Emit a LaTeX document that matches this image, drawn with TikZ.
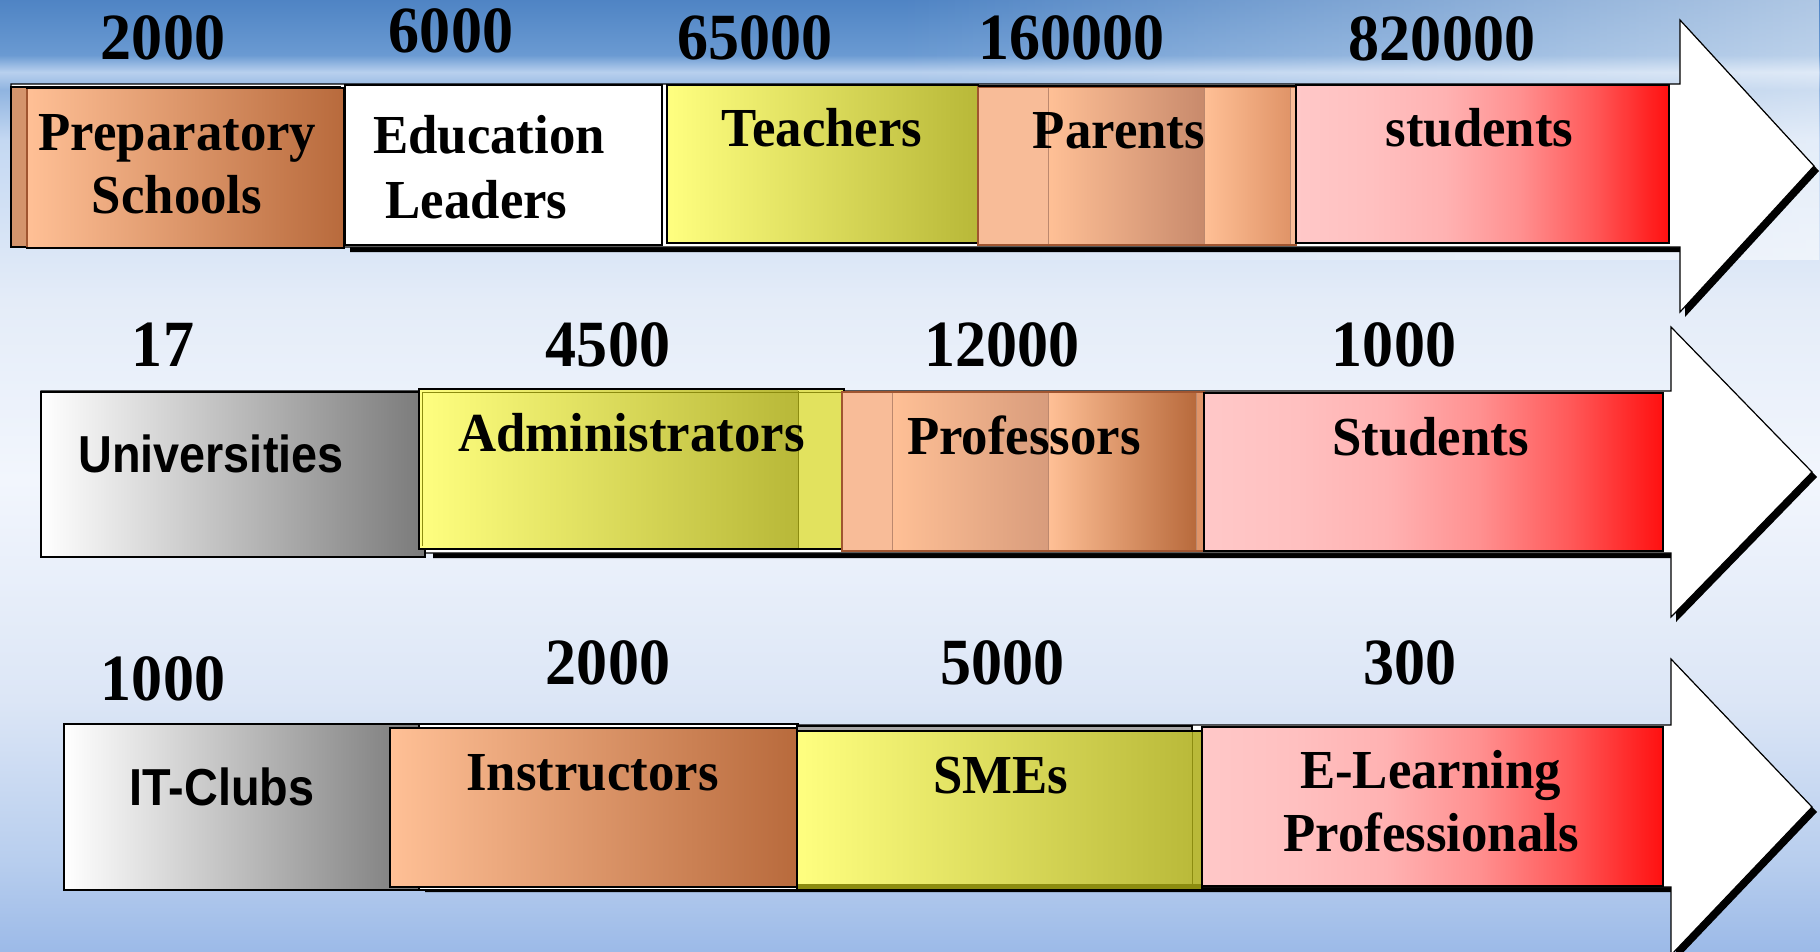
\documentclass[tikz,border=0pt]{standalone}
\usepackage{fontspec}
\setmainfont{Liberation Serif}
\setsansfont{Liberation Sans}
\usetikzlibrary{fadings}
\definecolor{peachL}{HTML}{FFC096}
\definecolor{peachR}{HTML}{B86A3C}
\definecolor{prepback}{HTML}{D4946C}
\definecolor{yelL}{HTML}{FFFF80}
\definecolor{yelR}{HTML}{B8B838}
\definecolor{yelpale}{HTML}{E2E25E}
\definecolor{olive}{HTML}{8C8C10}
\definecolor{greyR}{HTML}{7A7A7A}
\definecolor{pk0}{HTML}{FFC8C8}
\definecolor{pk1}{HTML}{FFC0C0}
\definecolor{pk2}{HTML}{FFB2B2}
\definecolor{pk3}{HTML}{FF9090}
\definecolor{pk4}{HTML}{FF5858}
\definecolor{pk5}{HTML}{FF1010}
\definecolor{parbase}{HTML}{F8BC98}
\definecolor{parA}{HTML}{C88A6C}
\definecolor{parB}{HTML}{E09468}
\definecolor{proA}{HTML}{D89C7C}
\definecolor{brownline}{HTML}{A05530}
\definecolor{bg0}{HTML}{4F84C4}
\definecolor{bg1}{HTML}{6A9AD2}
\definecolor{bg2}{HTML}{B8D0EE}
\definecolor{bg3}{HTML}{90B4E0}
\definecolor{bg4}{HTML}{C4D8F2}
\definecolor{bg5}{HTML}{E4ECF8}
\definecolor{bg6}{HTML}{F2F6FD}
\definecolor{bg7}{HTML}{DCE6F6}
\definecolor{bg8}{HTML}{B8CEEE}
\definecolor{bg9}{HTML}{9CBAE8}
\pgfdeclareverticalshading{bgshade}{100bp}{color(0bp)=(bg9); color(25bp)=(bg9); color(29.78bp)=(bg8); color(38.2bp)=(bg7); color(49.76bp)=(bg6); color(59.23bp)=(bg5); color(67.64bp)=(bg4); color(70.27bp)=(bg3); color(71.21bp)=(bg2); color(72.11bp)=(bg1); color(75bp)=(bg0); color(100bp)=(bg0)}
\pgfdeclarehorizontalshading{pinkred}{100bp}{color(0bp)=(pk0); color(25bp)=(pk0); color(35bp)=(pk1); color(45bp)=(pk2); color(55bp)=(pk3); color(65bp)=(pk4); color(75bp)=(pk5); color(100bp)=(pk5)}
\newcommand\cz[2]{\scalebox{#1}[1]{#2}}
\tikzset{
  num/.style={font=\fontsize{66}{66}\selectfont\bfseries, anchor=base, inner sep=0pt, text=black},
  lab/.style={font=\fontsize{55}{55}\selectfont\bfseries, anchor=base, inner sep=0pt, text=black},
  slab/.style={font=\fontsize{52}{52}\selectfont\sffamily\bfseries, anchor=base, inner sep=0pt, text=black},
  boxline/.style={draw=black, line width=1.4pt},
  arrowbody/.style={fill=white, draw=black, line width=1.2pt},
  arrowshadow/.style={fill=black}
}
\begin{document}
\begin{tikzpicture}[x=1pt, y=-1pt]
\useasboundingbox (0,0) rectangle (1820,951);
\clip (0,0) rectangle (1820,951);
% background
\shade[shading=bgshade] (0,0) rectangle (1820,951);
\fill[white, opacity=0.55, path fading=west] (900,0) rectangle (1820,260);

% ---------- Row 1 ----------
\fill[arrowshadow, shift={(5,5)}] (345,84) -- (1680,84) -- (1680,20) -- (1814,166) -- (1680,312) -- (1680,247) -- (345,247) -- cycle;
\filldraw[arrowbody] (11,84) -- (1680,84) -- (1680,20) -- (1814,166) -- (1680,312) -- (1680,247) -- (11,247) -- cycle;
% Preparatory Schools
\filldraw[fill=prepback, boxline] (11,87) rectangle (340,247);
\shade[left color=peachL, right color=peachR] (27,88) rectangle (344,248);
\draw[boxline] (27,88) rectangle (344,248);
\draw[brownline, line width=1.4pt] (27,89) -- (27,247);
% Education Leaders
\filldraw[fill=white, boxline] (345,85) rectangle (662,245);
% Teachers
\shade[left color=yelL, right color=yelR] (667,85) rectangle (978,243);
\draw[boxline] (667,85) rectangle (978,243);
% Parents
\fill[parbase] (978,87) rectangle (1296,245);
\shade[left color=peachL, right color=parA] (1048,87) rectangle (1204,245);
\shade[left color=peachL, right color=parB] (1204,87) rectangle (1290,245);
\draw[brownline!70, line width=1pt] (1048,87) -- (1048,245) (1204,87) -- (1204,245) (1290,87) -- (1290,245);
\draw[draw=brownline, line width=1.2pt] (978,87) rectangle (1296,245);
\draw[black, line width=1.4pt] (978,86) -- (1296,86);
% students
\shade[shading=pinkred] (1296,85) rectangle (1669,243);
\draw[boxline] (1296,85) rectangle (1669,243);

% ---------- Row 2 ----------
\fill[arrowshadow, shift={(5,5)}] (428,391) -- (1671,391) -- (1671,327) -- (1812,472) -- (1671,617) -- (1671,553) -- (428,553) -- cycle;
\filldraw[arrowbody] (41,391) -- (1671,391) -- (1671,327) -- (1812,472) -- (1671,617) -- (1671,553) -- (41,553) -- cycle;
% Universities
\shade[left color=white, right color=greyR] (41,392) rectangle (425,557);
\draw[boxline] (41,392) rectangle (425,557);
% Administrators
\shade[left color=yelL, right color=yelR] (419,389) rectangle (798,549);
\fill[yelpale] (798,389) rectangle (844,549);
\draw[olive, line width=1pt] (798,391) -- (798,548) (422,392) -- (842,392) (422,392) -- (422,546);
\draw[boxline] (419,389) rectangle (844,549);
% Professors
\fill[parbase] (842,392) rectangle (1204,551);
\shade[left color=peachL, right color=proA] (892,392) rectangle (1048,551);
\shade[left color=peachL, right color=peachR] (1048,392) rectangle (1196,551);
\fill[parB] (1196,392) rectangle (1204,551);
\draw[brownline!70, line width=1pt] (892,392) -- (892,551) (1048,392) -- (1048,551) (1196,392) -- (1196,551);
\draw[draw=brownline, line width=1.2pt] (842,392) rectangle (1204,551);
% Students
\shade[shading=pinkred] (1204,393) rectangle (1663,551);
\draw[boxline] (1204,393) rectangle (1663,551);

% ---------- Row 3 ----------
\fill[arrowshadow, shift={(5,5)}] (420,725) -- (1671,725) -- (1671,659) -- (1812,807) -- (1671,955) -- (1671,887) -- (420,887) -- cycle;
\filldraw[arrowbody] (64,725) -- (1671,725) -- (1671,659) -- (1812,807) -- (1671,955) -- (1671,887) -- (64,887) -- cycle;
% IT-Clubs
\shade[left color=white, right color=greyR] (64,724) rectangle (419,890);
\draw[boxline] (64,724) rectangle (419,890);
% Instructors
\filldraw[fill=white, boxline] (419,724) rectangle (798,890);
\shade[left color=peachL, right color=peachR] (390,728) rectangle (798,887);
\draw[boxline] (390,728) rectangle (798,887);
% SMEs
\filldraw[fill=gray!70, boxline] (797,726) rectangle (1192,890);
\shade[left color=yelL, right color=yelR] (797,731) rectangle (1202,890);
\fill[olive] (797,884) rectangle (1202,890);
\draw[olive, line width=1pt] (1192,731) -- (1192,884);
\draw[boxline] (797,731) rectangle (1202,890);
% E-Learning Professionals
\shade[shading=pinkred] (1202,727) rectangle (1663,886);
\draw[boxline] (1202,727) rectangle (1663,886);

% ---------- Numbers ----------
\node[num] (n11) at (163,59.3) {\cz{0.94}{2000}};
\node[num] (n12) at (451,52.7) {\cz{0.94}{6000}};
\node[num] (n13) at (754.6,59.3) {\cz{0.94}{65000}};
\node[num] (n14) at (1071.5,59.3) {\cz{0.94}{160000}};
\node[num] (n15) at (1442,60) {\cz{0.94}{820000}};
\node[num] (n21) at (163,366.7) {\cz{0.94}{17}};
\node[num] (n22) at (608,366.7) {\cz{0.94}{4500}};
\node[num] (n23) at (1002,366.7) {\cz{0.94}{12000}};
\node[num] (n24) at (1394,366.7) {\cz{0.94}{1000}};
\node[num] (n31) at (163,700) {\cz{0.94}{1000}};
\node[num] (n32) at (608,684) {\cz{0.94}{2000}};
\node[num] (n33) at (1002.5,684) {\cz{0.94}{5000}};
\node[num] (n34) at (1409.7,684) {\cz{0.94}{300}};

% ---------- Labels ----------
\node[lab] (l1a) at (177.5,150) {\cz{0.96}{Preparatory}};
\node[lab] (l1b) at (177,213) {\cz{0.96}{Schools}};
\node[lab] (l2a) at (489,153) {\cz{0.96}{Education}};
\node[lab] (l2b) at (476.5,218) {\cz{0.96}{Leaders}};
\node[lab] (l3) at (822,146.7) {\cz{0.96}{Teachers}};
\node[lab] (l4) at (1119,148) {\cz{0.96}{Parents}};
\node[lab] (l5) at (1479.5,146.7) {\cz{0.96}{students}};
\node[slab] (m1) at (211,472.7) {\cz{0.9}{Universities}};
\node[lab] (m2) at (631.5,451.7) {\cz{0.96}{Administrators}};
\node[lab] (m3) at (1024,454) {\cz{0.96}{Professors}};
\node[lab] (m4) at (1430.5,455) {\cz{0.96}{Students}};
\node[slab] (k1) at (222,805) {\cz{0.9}{IT-Clubs}};
\node[lab] (k2) at (592.5,790.7) {\cz{0.96}{Instructors}};
\node[lab] (k3) at (1000.6,793) {\cz{0.96}{SMEs}};
\node[lab] (k4a) at (1430.6,788.3) {\cz{0.96}{E-Learning}};
\node[lab] (k4b) at (1431,851.7) {\cz{0.96}{Professionals}};
\end{tikzpicture}
\end{document}
